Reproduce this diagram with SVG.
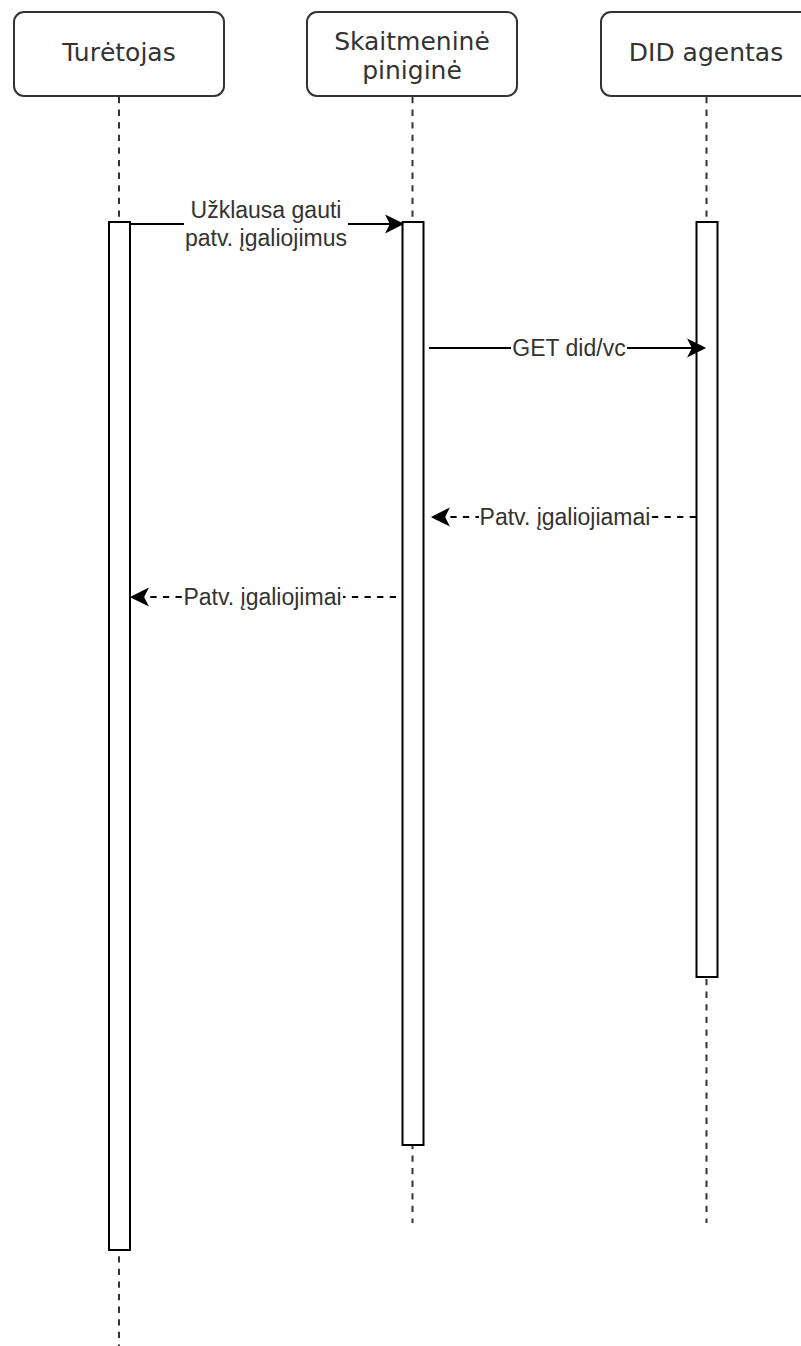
<svg xmlns="http://www.w3.org/2000/svg" width="801" height="1346" viewBox="0 0 801 1346">
  <style>
    .hdr { fill: #ffffff; stroke: #333333; stroke-width: 2; }
    .hdrtxt { font-family: "DejaVu Sans", sans-serif; font-size: 25px; fill: #333333; text-anchor: middle; }
    .life { stroke: #333333; stroke-width: 2; stroke-dasharray: 6.3 6.3; fill: none; }
    .act { fill: #ffffff; stroke: #000000; stroke-width: 2; }
    .msg { stroke: #000000; stroke-width: 2; fill: none; }
    .ret { stroke: #000000; stroke-width: 2; fill: none; stroke-dasharray: 6.3 6.3; }
    .lbl { font-family: "Liberation Sans", Arial, sans-serif; font-size: 23px; fill: #333333; text-anchor: middle; }
    .lblbg { fill: #ffffff; }
  </style>
  <defs>
    <marker id="arrow" viewBox="-17 -10 19 20" refX="-11" refY="0" markerWidth="19" markerHeight="20" markerUnits="userSpaceOnUse" orient="auto">
      <path d="M0,0 L-14.7,-7.35 L-11,0 L-14.7,7.35 Z" fill="#000000" stroke="#000000" stroke-width="2" stroke-linejoin="miter"/>
    </marker>
  </defs>

  <rect width="801" height="1346" fill="#ffffff"/>

  <!-- lifelines -->
  <g id="lifelines">
    <line class="life" x1="119" y1="97" x2="119" y2="1346"/>
    <line class="life" x1="412.5" y1="97" x2="412.5" y2="1223"/>
    <line class="life" x1="706.5" y1="97" x2="706.5" y2="1223"/>
  </g>

  <g id="node-turetojas">
    <rect class="hdr" x="14" y="12" width="210" height="84" rx="10" ry="10"/>
    <text class="hdrtxt" x="119" y="61">Turėtojas</text>
  </g>
  <g id="node-pinigine">
    <rect class="hdr" x="307" y="12" width="210" height="84" rx="10" ry="10"/>
    <text class="hdrtxt" x="412" y="50">Skaitmeninė</text>
    <text class="hdrtxt" x="412" y="79">piniginė</text>
  </g>
  <g id="node-did-agentas">
    <rect class="hdr" x="601" y="12" width="210" height="84" rx="10" ry="10"/>
    <text class="hdrtxt" x="706" y="61">DID agentas</text>
  </g>

  <g id="act-turetojas">
    <rect class="act" x="109" y="222" width="21" height="1028"/>
  </g>
  <g id="act-pinigine">
    <rect class="act" x="402.5" y="222" width="21" height="923"/>
  </g>
  <g id="act-did-agentas">
    <rect class="act" x="696.5" y="222" width="21" height="755"/>
  </g>

  <g id="connectors">
    <line class="msg" x1="130" y1="224" x2="391" y2="224" marker-end="url(#arrow)"/>
    <line class="msg" x1="429" y1="348" x2="693" y2="348" marker-end="url(#arrow)"/>
    <line class="ret" x1="696" y1="517" x2="444" y2="517" marker-end="url(#arrow)"/>
    <line class="ret" x1="396" y1="597" x2="143" y2="597" marker-end="url(#arrow)"/>

    <g id="label-1">
      <rect class="lblbg" x="184" y="199" width="164" height="55"/>
      <text class="lbl" x="266" y="218">Užklausa gauti</text>
      <text class="lbl" x="266" y="246">patv. įgaliojimus</text>
    </g>
    <g id="label-2">
      <rect class="lblbg" x="511" y="336" width="116" height="24"/>
      <text class="lbl" x="569" y="356">GET did/vc</text>
    </g>
    <g id="label-3">
      <rect class="lblbg" x="479" y="505" width="172" height="26"/>
      <text class="lbl" x="565" y="525">Patv. įgaliojiamai</text>
    </g>
    <g id="label-4">
      <rect class="lblbg" x="182" y="585" width="161" height="26"/>
      <text class="lbl" x="262.5" y="605">Patv. įgaliojimai</text>
    </g>
  </g>
</svg>
